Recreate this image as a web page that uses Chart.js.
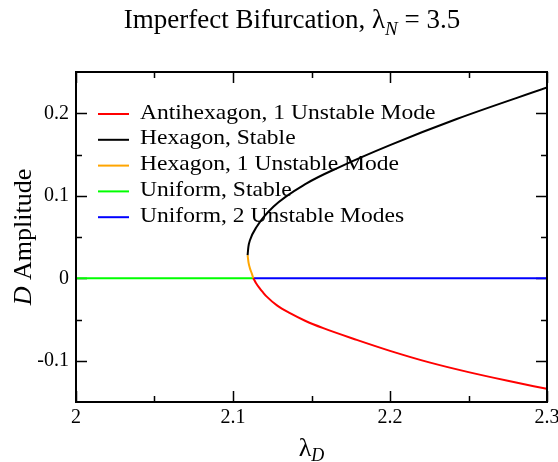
<!DOCTYPE html>
<html lang="en">

<head>
  <meta charset="UTF-8">
  <title>Imperfect Bifurcation</title>
  <script src="https://cdn.jsdelivr.net/npm/chart.js"></script>
  <style>
    body {
      margin: 0;
      background-color: white;
    }
  </style>
</head>

<body>
  <canvas id="bifChart" width="558" height="462"></canvas>

  <script>
    // values
    const antihexX = [2.1129, 2.1146, 2.1168, 2.119, 2.1215, 2.128, 2.1363, 2.1459, 2.1575, 2.1788, 2.2, 2.225, 2.25, 2.275, 2.2998];
    const antihexY = [0, -0.0057, -0.0117, -0.0169, -0.0223, -0.0329, -0.0424, -0.0515, -0.0605, -0.0747, -0.088, -0.102, -0.1138, -0.1243, -0.134];

    const hexStableX = [2.1093, 2.1098, 2.1108, 2.1151, 2.1257, 2.1469, 2.1682, 2.2, 2.2425, 2.3];
    const hexStableY = [0.028, 0.038, 0.046, 0.0625, 0.0867, 0.115, 0.1351, 0.1614, 0.193, 0.2312];

    const hexUnstableX = [2.1093, 2.1099, 2.1108, 2.1121, 2.1129];
    const hexUnstableY = [0.028, 0.019, 0.012, 0.005, 0];

    const uniStableX = [2, 2.1129];
    const uniStableY = [0, 0];

    const uniUnstableX = [2.1129, 2.3];
    const uniUnstableY = [0, 0];

    const seriesNames = ['Antihexagon, 1 Unstable Mode', 'Hexagon, Stable', 'Hexagon, 1 Unstable Mode',
      'Uniform, Stable', 'Uniform, 2 Unstable Modes'];
    const seriesColors = ['#ff0000', '#000000', '#ffa500', '#00ff00', '#0000ff'];

    const xMajorTicks = [2, 2.1, 2.2, 2.3];
    const xMinorTicks = [2.05, 2.15, 2.25];
    const yMajorTicks = [-0.1, 0, 0.1, 0.2];
    const yMinorTicks = [-0.05, 0.05, 0.15];

    const SERIF = "'Liberation Serif', 'Times New Roman', serif";

    function pts(xs, ys) {
      return xs.map((x, i) => ({ x: x, y: ys[i] }));
    }

    const seriesData = [
      pts(antihexX, antihexY),
      pts(hexStableX, hexStableY),
      pts(hexUnstableX, hexUnstableY),
      pts(uniStableX, uniStableY),
      pts(uniUnstableX, uniUnstableY)
    ];

    // inward ticks go under the curves
    const tickMarks = {
      id: 'tickMarks',
      beforeDatasetsDraw(chart) {
        const ctx = chart.ctx;
        const a = chart.chartArea;
        const xs = chart.scales.x, ys = chart.scales.y;
        ctx.save();
        ctx.strokeStyle = '#000';
        ctx.lineWidth = 1.5;
        ctx.beginPath();
        function xTick(v, len) {
          const p = Math.round(xs.getPixelForValue(v)) + 0.5;
          ctx.moveTo(p, a.bottom); ctx.lineTo(p, a.bottom - len);
          ctx.moveTo(p, a.top); ctx.lineTo(p, a.top + len);
        }
        function yTick(v, len) {
          const p = Math.round(ys.getPixelForValue(v)) + 0.5;
          ctx.moveTo(a.left, p); ctx.lineTo(a.left + len, p);
          ctx.moveTo(a.right, p); ctx.lineTo(a.right - len, p);
        }
        xMajorTicks.forEach(v => xTick(v, 11));
        xMinorTicks.forEach(v => xTick(v, 6));
        yMajorTicks.forEach(v => yTick(v, 11));
        yMinorTicks.forEach(v => yTick(v, 6));
        ctx.stroke();
        ctx.restore();
      }
    };

    // frame, legend and titles
    const decorations = {
      id: 'decorations',
      afterDraw(chart) {
        const ctx = chart.ctx;
        const a = chart.chartArea;
        ctx.save();
        ctx.strokeStyle = '#000';
        ctx.lineWidth = 2;
        ctx.strokeRect(a.left, a.top, a.right - a.left, a.bottom - a.top);

        // legend inside the plot
        ctx.textAlign = 'left';
        ctx.textBaseline = 'alphabetic';
        ctx.font = '22px ' + SERIF;
        chart.data.datasets.forEach((ds, i) => {
          const y = 114 + i * 25.8;
          ctx.strokeStyle = ds.borderColor;
          ctx.lineWidth = 2;
          ctx.beginPath();
          ctx.moveTo(98, y); ctx.lineTo(129, y);
          ctx.stroke();
          ctx.fillStyle = '#000';
          ctx.save();
          ctx.translate(140, y + 4.5);
          ctx.scale(1.07, 1);
          ctx.fillText(ds.label, 0, 0);
          ctx.restore();
        });

        // title: Imperfect Bifurcation, λ_N = 3.5
        const parts = [
          { t: 'Imperfect Bifurcation, \u03bb', f: '27px ' + SERIF, dy: 0 },
          { t: 'N', f: 'italic 19px ' + SERIF, dy: 7 },
          { t: ' = 3.5', f: '27px ' + SERIF, dy: 0 }
        ];
        let w = 0;
        parts.forEach(p => { ctx.font = p.f; w += ctx.measureText(p.t).width; });
        let x = 292 - w / 2;
        ctx.fillStyle = '#000';
        parts.forEach(p => {
          ctx.font = p.f;
          ctx.fillText(p.t, x, 28 + p.dy);
          x += ctx.measureText(p.t).width;
        });

        // x axis title: λ_D
        ctx.font = '26px ' + SERIF;
        const lw = ctx.measureText('\u03bb').width;
        ctx.font = 'italic 18px ' + SERIF;
        const dw = ctx.measureText('D').width;
        let xx = (a.left + a.right) / 2 - (lw + dw) / 2;
        ctx.font = '26px ' + SERIF;
        ctx.fillText('\u03bb', xx, 456);
        ctx.font = 'italic 18px ' + SERIF;
        ctx.fillText('D', xx + lw, 461);

        // y axis title: D Amplitude
        ctx.save();
        ctx.translate(31, (a.top + a.bottom) / 2);
        ctx.rotate(-Math.PI / 2);
        ctx.font = 'italic 26px ' + SERIF;
        const dW = ctx.measureText('D').width;
        ctx.font = '26px ' + SERIF;
        const ampW = ctx.measureText(' Amplitude').width;
        let yx = -(dW + ampW) / 2;
        ctx.font = 'italic 26px ' + SERIF;
        ctx.fillText('D', yx, 0);
        ctx.font = '26px ' + SERIF;
        ctx.fillText(' Amplitude', yx + dW, 0);
        ctx.restore();

        ctx.restore();
      }
    };

    const ctx = document.getElementById('bifChart').getContext('2d');
    new Chart(ctx, {
      type: 'scatter',
      data: {
        datasets: seriesData.map((d, i) => ({
          label: seriesNames[i],
          data: d,
          showLine: true,
          borderColor: seriesColors[i],
          backgroundColor: seriesColors[i],
          borderWidth: 2,
          pointRadius: 0,
          cubicInterpolationMode: 'monotone',
          fill: false
        }))
      },
      options: {
        responsive: false,
        animation: false,
        events: [],
        layout: { padding: { left: 0, top: 72, right: 11, bottom: 0 } },
        plugins: {
          legend: { display: false },
          title: { display: false },
          tooltip: { enabled: false }
        },
        scales: {
          x: {
            type: 'linear',
            min: 2,
            max: 2.3,
            grid: { display: false },
            border: { display: false },
            afterBuildTicks: s => { s.ticks = xMajorTicks.map(v => ({ value: v })); },
            afterFit: s => { s.height = 60; s.paddingLeft = 0; s.paddingRight = 0; },
            ticks: {
              maxRotation: 0,
              padding: -4,
              color: '#000',
              font: { family: SERIF, size: 20 },
              callback: v => String(+v.toFixed(2))
            }
          },
          y: {
            type: 'linear',
            min: -0.15,
            max: 0.25,
            grid: { display: false },
            border: { display: false },
            afterBuildTicks: s => { s.ticks = yMajorTicks.map(v => ({ value: v })); },
            afterFit: s => { s.width = 76; s.paddingTop = 0; s.paddingBottom = 0; },
            ticks: {
              padding: -1,
              color: '#000',
              font: { family: SERIF, size: 20 },
              callback: v => String(+v.toFixed(2))
            }
          }
        }
      },
      plugins: [tickMarks, decorations]
    });
  </script>
</body>

</html>
